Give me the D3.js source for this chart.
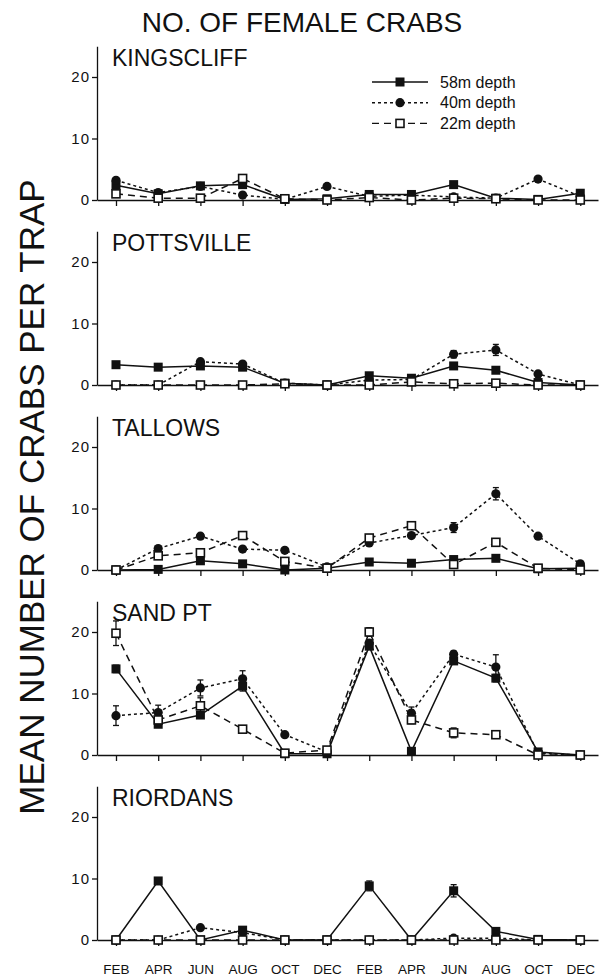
<!DOCTYPE html>
<html>
<head>
<meta charset="utf-8">
<script src="https://cdn.jsdelivr.net/npm/d3@7"></script>
<style>
  html, body { margin: 0; padding: 0; background: #fff; }
  svg { display: block; }
  text { font-family: "Liberation Sans", Arial, Helvetica, sans-serif; fill: #111; }
</style>
</head>
<body>
<svg id="chart" width="604" height="978"></svg>
<script>
// Sampling months (two years, bimonthly)
const months = ["FEB","APR","JUN","AUG","OCT","DEC","FEB","APR","JUN","AUG","OCT","DEC"];
const sites = ["KINGSCLIFF","POTTSVILLE","TALLOWS","SAND PT","RIORDANS"];
const depths = ["58m depth","40m depth","22m depth"];
const yTicks = [0, 10, 20];

// Mean number of female crabs per trap, per site and depth
const kingscliff58 = [2.4, 1.0, 2.3, 2.5, 0.1, 0.2, 0.9, 0.9, 2.5, 0.3, 0.1, 1.1];
const kingscliff40 = [3.2, 1.2, 2.2, 0.8, 0.1, 2.2, 0.6, 0.8, 0.5, 0.3, 3.4, 0.6];
const kingscliff22 = [1.0, 0.3, 0.3, 3.5, 0.2, 0.0, 0.4, 0.0, 0.3, 0.2, 0.0, 0.0];

const pottsville58 = [3.3, 2.9, 3.1, 2.9, 0.3, 0.0, 1.5, 1.1, 3.1, 2.4, 0.4, 0.0];
const pottsville40 = [0.0, 0.0, 3.8, 3.4, 0.3, 0.0, 0.8, 0.9, 5.0, 5.7, 1.8, 0.0];
const pottsville22 = [0.0, 0.0, 0.0, 0.0, 0.2, 0.0, 0.0, 0.5, 0.2, 0.3, 0.0, 0.0];

const tallows58 = [0.0, 0.1, 1.5, 1.0, 0.0, 0.3, 1.3, 1.1, 1.7, 1.9, 0.2, 0.3];
const tallows40 = [0.0, 3.5, 5.5, 3.4, 3.2, 0.5, 4.4, 5.6, 6.9, 12.4, 5.5, 1.0];
const tallows22 = [0.0, 2.3, 2.8, 5.6, 1.4, 0.3, 5.2, 7.2, 0.9, 4.5, 0.3, 0.0];

const sandpt58 = [14.0, 5.0, 6.5, 11.2, 0.2, 0.2, 17.7, 0.6, 15.3, 12.5, 0.5, 0.0];
const sandpt40 = [6.4, 6.9, 10.9, 12.4, 3.3, 0.5, 18.2, 6.8, 16.4, 14.3, 0.3, 0.0];
const sandpt22 = [19.8, 5.7, 8.0, 4.2, 0.3, 0.8, 20.0, 5.7, 3.6, 3.3, 0.0, 0.0];

const riordans58 = [0.0, 9.6, 0.0, 1.6, 0.0, 0.0, 8.8, 0.0, 8.0, 1.4, 0.1, 0.0];
const riordans40 = [0.0, 0.0, 2.0, 1.2, 0.0, 0.0, 0.0, 0.0, 0.3, 0.3, 0.0, 0.0];
const riordans22 = [0.0, 0.0, 0.0, 0.0, 0.0, 0.0, 0.0, 0.0, 0.0, 0.0, 0.0, 0.0];

// Standard errors (only where a bar shows)
const pottsville40Err = [0, 0, 0.3, 0, 0, 0, 0, 0, 0.6, 0.9, 0.3, 0];
const tallows40Err    = [0, 0.3, 0.4, 0, 0, 0, 0, 0, 0.8, 1.0, 0.4, 0];
const sandpt58Err     = [0.6, 0, 0, 0.8, 0, 0, 0.5, 0, 0.5, 0.6, 0, 0];
const sandpt40Err     = [1.6, 1.2, 1.3, 1.3, 0, 0, 0.5, 1.0, 0.5, 2.0, 0, 0];
const sandpt22Err     = [2.0, 0.8, 1.3, 0, 0, 0, 0.7, 0.6, 0.8, 0, 0, 0];
const riordans58Err   = [0, 0.3, 0, 0.3, 0, 0, 0.8, 0, 1.0, 0, 0, 0];

const siteSeries = [
  [kingscliff58, kingscliff40, kingscliff22],
  [pottsville58, pottsville40, pottsville22],
  [tallows58, tallows40, tallows22],
  [sandpt58, sandpt40, sandpt22],
  [riordans58, riordans40, riordans22]
];
const siteErrors = [
  [null, null, null],
  [null, pottsville40Err, null],
  [null, tallows40Err, null],
  [sandpt58Err, sandpt40Err, sandpt22Err],
  [riordans58Err, null, null]
];

const svg = d3.select("#chart");
const ink = "#111";

// Line style per depth: solid / dotted / dashed
const dashes = [null, "3,3", "7,5"];

const x = d3.scaleLinear().domain([-0.45, 11.42]).range([97, 598]);
const panelBase = i => 200 + i * 185;
const panelHeight = 153.75;

function drawMarker(g, k, cx, cy) {
  if (k === 0) {
    g.append("rect").attr("x", cx - 4.5).attr("y", cy - 4.5)
      .attr("width", 9).attr("height", 9).attr("fill", ink);
  } else if (k === 1) {
    g.append("circle").attr("cx", cx).attr("cy", cy).attr("r", 4.6).attr("fill", ink);
  } else {
    g.append("rect").attr("x", cx - 4).attr("y", cy - 4)
      .attr("width", 8).attr("height", 8).attr("fill", "#fff")
      .attr("stroke", ink).attr("stroke-width", 1.6);
  }
}

sites.forEach((site, p) => {
  const base = panelBase(p);
  const y = d3.scaleLinear().domain([0, 25]).range([base, base - panelHeight]);
  const g = svg.append("g");

  // y axis
  const ya = g.append("g").attr("transform", `translate(${x.range()[0]},0)`)
    .call(d3.axisLeft(y).tickValues(yTicks).tickSize(5).tickSizeOuter(0).tickPadding(2));
  ya.selectAll("path, line").attr("stroke", ink).attr("stroke-width", 1.3);
  ya.selectAll("text").attr("font-size", 15).attr("letter-spacing", 1)
    .style("font-family", "'Liberation Sans', Arial, sans-serif").attr("fill", ink);

  // x axis
  const xa = g.append("g").attr("transform", `translate(0,${base})`)
    .call(d3.axisBottom(x).tickValues(d3.range(months.length)).tickSize(6).tickSizeOuter(0)
      .tickFormat(i => p === sites.length - 1 ? months[i] : ""));
  xa.selectAll("path, line").attr("stroke", ink).attr("stroke-width", 1.3);
  xa.selectAll("text").attr("font-size", 13.5).attr("dy", "1.85em")
    .style("font-family", "'Liberation Sans', Arial, sans-serif").attr("fill", ink);

  // site name
  g.append("text").attr("x", 112).attr("y", base - panelHeight + 20)
    .attr("font-size", 23).text(site);

  const series = siteSeries[p];
  const line = d3.line().x((d, i) => x(i)).y(d => y(d));

  // lines
  series.forEach((vals, k) => {
    g.append("path").datum(vals).attr("d", line)
      .attr("fill", "none").attr("stroke", ink).attr("stroke-width", 1.5)
      .attr("stroke-dasharray", dashes[k]);
  });

  // error bars
  series.forEach((vals, k) => {
    const err = siteErrors[p][k];
    if (!err) return;
    vals.forEach((v, i) => {
      if (!err[i]) return;
      const cx = x(i);
      g.append("line").attr("x1", cx).attr("x2", cx)
        .attr("y1", y(v + err[i])).attr("y2", y(Math.max(0, v - err[i])))
        .attr("stroke", ink).attr("stroke-width", 1.3);
      [v + err[i], Math.max(0, v - err[i])].forEach(e => {
        g.append("line").attr("x1", cx - 3).attr("x2", cx + 3)
          .attr("y1", y(e)).attr("y2", y(e)).attr("stroke", ink).attr("stroke-width", 1.3);
      });
    });
  });

  // markers
  series.forEach((vals, k) => {
    vals.forEach((v, i) => drawMarker(g, k, x(i), y(v)));
  });

  // legend in the first panel
  if (p === 0) {
    const lg = g.append("g");
    depths.forEach((name, k) => {
      const ly = 82 + k * 20.7;
      lg.append("line").attr("x1", 372).attr("x2", 428).attr("y1", ly).attr("y2", ly)
        .attr("stroke", ink).attr("stroke-width", 1.4).attr("stroke-dasharray", dashes[k]);
      drawMarker(lg, k, 400, ly);
      lg.append("text").attr("x", 440).attr("y", ly + 5.5).attr("font-size", 16).text(name);
    });
  }
});

// title
svg.append("text").attr("x", 302).attr("y", 32).attr("text-anchor", "middle")
  .attr("font-size", 28).text("NO. OF FEMALE CRABS");

// y axis title
svg.append("text")
  .attr("transform", "translate(44,497) rotate(-90)")
  .attr("text-anchor", "middle").attr("font-size", 35)
  .text("MEAN NUMBER OF CRABS PER TRAP");
</script>
</body>
</html>
